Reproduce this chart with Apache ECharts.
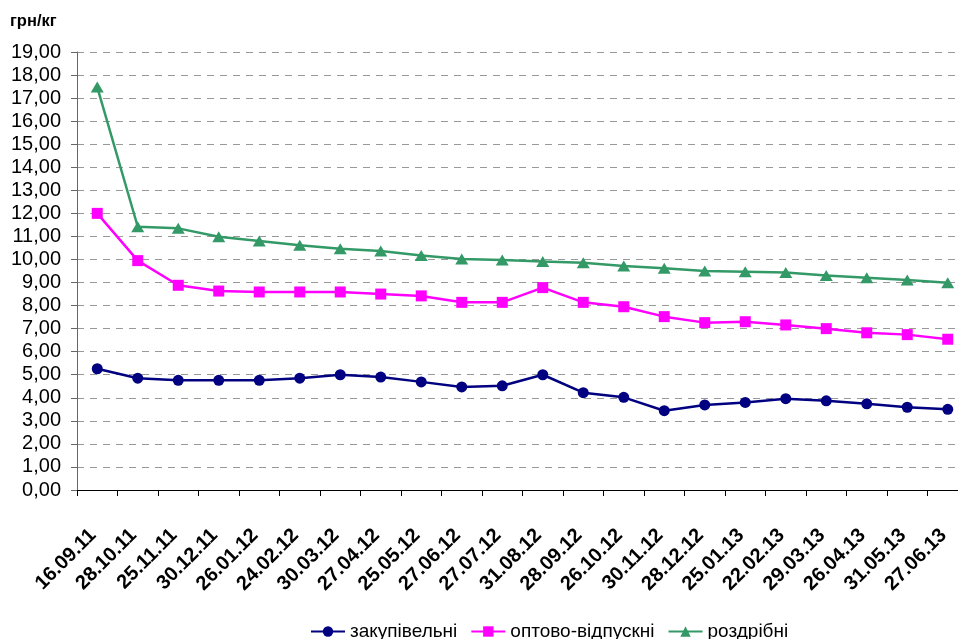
<!DOCTYPE html>
<html>
<head>
<meta charset="utf-8">
<script src="https://cdn.jsdelivr.net/npm/echarts@6/dist/echarts.min.js"></script>
<style>
html,body{margin:0;padding:0;background:#fff;overflow:hidden;width:958px;height:639px;}
#chart{width:968px;height:639px;}
</style>
</head>
<body>
<div id="chart"></div>
<script>
const categories = ['16.09.11','28.10.11','25.11.11','30.12.11','26.01.12','24.02.12','30.03.12','27.04.12','25.05.12','27.06.12','27.07.12','31.08.12','28.09.12','26.10.12','30.11.12','28.12.12','25.01.13','22.02.13','29.03.13','26.04.13','31.05.13','27.06.13'];
const purchase = [5.26,4.85,4.76,4.76,4.76,4.85,5.00,4.90,4.69,4.47,4.52,5.00,4.22,4.02,3.44,3.69,3.80,3.96,3.87,3.74,3.59,3.50];
const wholesale = [12.00,9.95,8.88,8.63,8.59,8.59,8.59,8.50,8.42,8.14,8.14,8.78,8.14,7.95,7.52,7.26,7.30,7.16,7.00,6.82,6.74,6.54];
const retail = [17.48,11.42,11.35,10.99,10.80,10.62,10.46,10.37,10.17,10.02,9.98,9.91,9.86,9.72,9.62,9.50,9.47,9.43,9.30,9.21,9.11,8.99];
const seriesNames = ['закупівельні','оптово-відпускні','роздрібні'];
const unitLabel = 'грн/кг';

const font = '"Liberation Sans", Arial, sans-serif';
const chart = echarts.init(document.getElementById('chart'));
chart.setOption({
  animation: false,
  backgroundColor: '#ffffff',
  title: {
    text: unitLabel, left: 5, top: 8,
    textStyle: {fontFamily: font, fontSize: 16.5, fontWeight: 'bold', color: '#000'}
  },
  legend: {
    left: 305, top: 617,
    itemWidth: 34, itemHeight: 13, itemGap: 13,
    textStyle: {fontFamily: font, fontSize: 19, color: '#000'},
    data: seriesNames
  },
  grid: {left: 77, right: 0, top: 52, bottom: 149, containLabel: false},
  xAxis: {
    type: 'category', data: categories, boundaryGap: true,
    axisLine: {lineStyle: {color: '#000', width: 1}},
    axisTick: {show: true, length: 6, lineStyle: {color: '#000'}},
    axisLabel: {rotate: 45, margin: 38, padding: [0, 6, 0, 0], fontFamily: font, fontSize: 20, fontWeight: 'bold', color: '#000', interval: 0},
    splitLine: {show: false}
  },
  yAxis: {
    type: 'value', min: 0, max: 19, interval: 1,
    axisLine: {show: true, lineStyle: {color: '#666', width: 1}},
    axisTick: {show: true, length: 6, lineStyle: {color: '#666'}},
    axisLabel: {margin: 16, fontFamily: font, fontSize: 20, color: '#000',
      formatter: v => v.toFixed(2).replace('.', ',')},
    splitLine: {show: true, lineStyle: {color: '#999', type: [7, 6], width: 1}}
  },
  series: [
    {name: seriesNames[0], type: 'line', data: purchase, symbol: 'circle', symbolSize: 11,
      lineStyle: {color: '#000080', width: 2.5}, itemStyle: {color: '#000080'}},
    {name: seriesNames[1], type: 'line', data: wholesale, symbol: 'rect', symbolSize: 11,
      lineStyle: {color: '#ff00ff', width: 2.5}, itemStyle: {color: '#ff00ff'}},
    {name: seriesNames[2], type: 'line', data: retail, symbol: 'triangle', symbolSize: [13, 11],
      lineStyle: {color: '#339966', width: 2.5}, itemStyle: {color: '#339966'}}
  ]
});
</script>
</body>
</html>
